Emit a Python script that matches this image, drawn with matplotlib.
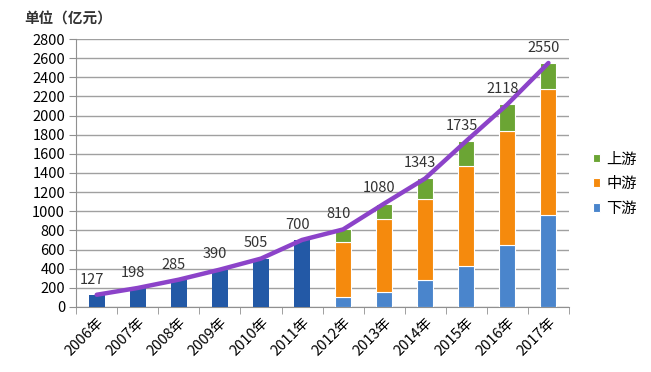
import numpy as np
import matplotlib
matplotlib.use("Agg")
import matplotlib.pyplot as plt

plt.rcParams['font.family'] = ['Noto Sans CJK SC', 'DejaVu Sans']

# data
years = ['2006年', '2007年', '2008年', '2009年', '2010年', '2011年',
         '2012年', '2013年', '2014年', '2015年', '2016年', '2017年']
totals = [127, 198, 285, 390, 505, 700, 810, 1080, 1343, 1735, 2118, 2550]
# early years only have a single total bar
early_years = years[:6]
early_vals = totals[:6]
# split into downstream / midstream / upstream from 2012 on
late_years = years[6:]
down = [100, 160, 285, 430, 650, 960]
mid = [576, 763, 847, 1046, 1189, 1318]
up = [134, 157, 211, 259, 279, 272]

fig = plt.figure(figsize=(6.51, 3.72), dpi=100)
ax = fig.add_axes([0.117, 0.175, 0.757, 0.72])

x = np.arange(len(years))
x_early = x[:6]
x_late = x[6:]
w = 0.39

ax.bar(x_early, early_vals, width=w, color='#2359A6', zorder=3)
ax.bar(x_late, down, width=w, color='#4A85CC', edgecolor='white', linewidth=0.8, label='下游', zorder=3)
ax.bar(x_late, mid, width=w, bottom=down, color='#F58A0D', edgecolor='white', linewidth=0.8, label='中游', zorder=3)
bottom_up = np.array(down) + np.array(mid)
ax.bar(x_late, up, width=w, bottom=bottom_up, color='#6BA534', edgecolor='white', linewidth=0.8, label='上游', zorder=3)

ax.plot(x, totals, color='#8C43C9', linewidth=3.2, solid_capstyle='round', solid_joinstyle='round', zorder=4)
for xi, v in zip(x, totals):
    ax.text(xi - 0.12, v + 85, str(v), ha='center', va='bottom', fontsize=10.5, color='#333333', zorder=5)

ax.set_xlim(-0.5, len(years) - 0.5)
ax.set_ylim(0, 2800)
ax.set_yticks(np.arange(0, 2801, 200))
ax.yaxis.grid(True, color='#A0A0A0', linewidth=1.0, zorder=0)
ax.set_axisbelow(True)

ax.set_xticks(x)
ax.set_xticklabels(years, rotation=45, ha='right', rotation_mode='anchor', fontsize=10.5)
ax.tick_params(axis='x', length=0, pad=6)
ax.set_xticks(np.arange(-0.5, len(years)), minor=True)
ax.tick_params(axis='x', which='minor', length=5, color='#909090', direction='out')
ax.tick_params(axis='y', length=5, color='#909090', labelsize=10.5, pad=3)

for s in ['top', 'right']:
    ax.spines[s].set_visible(False)
ax.spines['left'].set_color('#909090')
ax.spines['bottom'].set_color('#909090')

handles, labels = ax.get_legend_handles_labels()
leg = ax.legend(handles[::-1], labels[::-1], loc='center left', bbox_to_anchor=(1.02, 0.46),
                frameon=False, fontsize=11, handlelength=0.5, handleheight=0.5,
                handletextpad=0.4, labelspacing=0.5)

fig.text(0.038, 0.95, '单位（亿元）', fontsize=10.5, fontweight='bold', color='#333333', va='center', ha='left')

fig.savefig('out.png', dpi=100)
